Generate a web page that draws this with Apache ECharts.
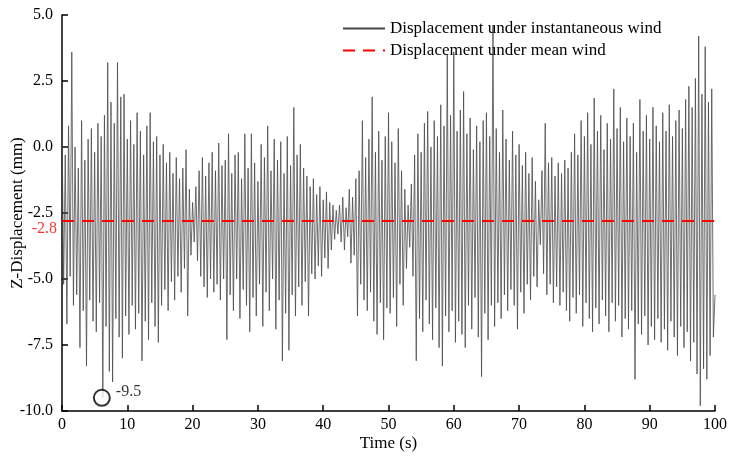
<!DOCTYPE html>
<html>
<head>
<meta charset="utf-8">
<script src="https://cdn.jsdelivr.net/npm/echarts@6.0.0/dist/echarts.min.js"></script>
<style>
  html, body { margin: 0; padding: 0; background: #fff; }
  #chart { width: 732px; height: 458px; }
</style>
</head>
<body>
<div id="chart"></div>
<script>
// 位移时程 (mm)，每 0.25 s 一个点，峰/谷交替
const segA = [ // 0 - 24.75 s
  1.1, -5.2, -0.3, -6.7, 0.8, -4.9, 3.6, -6.0, 0.0, -5.6,
  -0.8, -7.6, 1.0, -6.2, -0.5, -8.3, 0.3, -5.8, 0.7, -6.6,
  -0.2, -7.0, 0.9, -5.9, 0.4, -9.5, 1.2, -6.8, 3.2, -8.5,
  1.7, -8.9, 0.9, -6.5, 3.2, -7.2, 1.9, -8.0, 2.0, -6.4,
  0.3, -7.1, 1.0, -6.0, 0.1, -6.9, 1.3, -6.3, 0.6, -8.1,
  -0.3, -6.6, 0.8, -7.3, 1.3, -5.9, 0.2, -6.8, 0.4, -7.4,
  -0.3, -6.0, 0.1, -5.4, -0.6, -6.2, -0.2, -5.1, -1.0, -5.8,
  -0.4, -4.9, -1.2, -5.5, -0.8, -4.6, -0.1, -6.4, -1.6, -4.1,
  -2.1, -3.6, -1.5, -4.3, -0.9, -4.9, -0.4, -5.3, -1.1, -5.7,
  -0.6, -5.0, -0.2, -5.5, -0.9, -5.2, 0.15, -5.8, -0.7, -5.0
];
const segB = [ // 25 - 49.75 s
  -0.5, -7.3, 0.5, -5.6, -1.0, -6.2, -0.3, -5.0, -0.2, -6.5,
  -1.2, -5.4, 0.5, -6.0, -0.8, -7.0, 0.5, -5.7, -0.6, -6.4,
  -1.3, -5.2, 0.1, -6.8, -0.4, -5.5, 0.8, -6.2, -0.9, -5.0,
  0.3, -6.9, -0.5, -5.8, 0.2, -8.1, -1.0, -6.3, 0.4, -7.7,
  -0.7, -5.6, 1.5, -6.4, -0.3, -5.3, 0.1, -6.0, -0.8, -5.1,
  -1.1, -6.4, -1.5, -4.8, -1.2, -5.0, -1.8, -4.5, -1.5, -4.9,
  -2.0, -4.2, -1.7, -4.6, -2.1, -3.9, -2.2, -3.5, -2.4, -3.3,
  -2.2, -3.6, -1.9, -3.9, -2.3, -3.4, -1.6, -4.4, -1.9, -4.1,
  -1.2, -6.4, -0.9, -5.2, 1.0, -5.8, -0.4, -6.2, 0.3, -5.5,
  1.9, -6.6, -0.2, -7.1, 0.6, -5.9, -0.5, -7.3, 0.4, -6.1
];
const segC = [ // 50 - 74.75 s
  1.3, -6.3, 0.2, -5.7, -0.6, -6.8, 0.7, -5.2, -0.9, -6.0,
  -1.6, -4.6, -2.2, -3.8, -1.4, -4.9, -0.3, -8.1, 0.5, -6.5,
  -0.2, -7.0, 0.9, -5.8, 1.35, -6.7, 0.0, -7.3, 1.0, -6.1,
  0.4, -7.6, 1.6, -8.3, 0.8, -6.4, 3.5, -7.0, 1.2, -6.2,
  3.6, -7.4, 0.6, -6.6, 1.4, -7.1, 2.1, -7.6, 0.5, -6.0,
  1.1, -6.9, -0.1, -5.7, 0.8, -7.2, 0.2, -8.7, 1.0, -6.3,
  1.3, -7.3, 0.4, -6.0, 4.6, -6.8, 0.7, -5.9, -0.2, -6.5,
  1.4, -5.6, 0.3, -6.2, -0.5, -5.4, 0.6, -6.0, -0.3, -6.9,
  0.1, -5.5, -0.7, -6.3, -0.2, -5.2, -1.0, -5.8, -0.4, -4.9,
  -1.3, -5.3, -2.0, -3.7, -0.9, -4.8, 0.9, -5.6, -0.6, -5.2
];
const segD = [ // 75 - 100 s
  -0.4, -5.9, -1.1, -5.3, -0.6, -6.0, -1.0, -5.5, -0.5, -6.2,
  -0.8, -6.6, -0.2, -5.7, 0.5, -6.3, -0.3, -5.6, 1.0, -6.8,
  0.4, -5.9, 1.3, -6.5, 0.1, -7.0, 1.85, -6.1, 0.6, -6.7,
  1.2, -5.8, -0.1, -6.4, 0.9, -7.0, 0.3, -5.9, 2.2, -6.6,
  0.7, -6.0, 1.5, -7.2, 0.2, -6.5, 1.1, -6.9, 0.4, -6.2,
  0.9, -8.8, -0.2, -6.7, 1.8, -7.1, 0.6, -6.4, 1.2, -7.5,
  0.3, -6.8, 1.5, -7.3, 0.8, -6.5, 0.2, -7.4, 1.3, -6.9,
  0.6, -7.7, 1.6, -6.6, 0.4, -7.2, 1.0, -7.9, 1.4, -6.8,
  0.7, -7.6, 1.8, -7.0, 2.3, -8.1, 1.5, -7.4, 2.6, -8.6,
  4.2, -9.8, 2.0, -8.4, 3.8, -8.8, 1.7, -7.9, 2.2, -7.2,
  -5.6
];
const timeStep = 0.25;
const meanValue = -2.8;
const minPoint = [6.1, -9.5];
const xTicks = [0, 100, 10];
const yTicks = [-10, 5, 2.5];

const values = segA.concat(segB, segC, segD);
const instData = values.map((v, i) => [i * timeStep, v]);
const meanData = [[0, meanValue], [100, meanValue]];

const font = 'Liberation Serif';
const chart = echarts.init(document.getElementById('chart'));

chart.setOption({
  animation: false,
  grid: { left: 62, right: 17, top: 15, bottom: 47, outerBoundsMode: 'none' },
  legend: {
    data: ['Displacement under instantaneous wind', 'Displacement under mean wind'],
    orient: 'vertical',
    left: 337,
    top: 15,
    itemWidth: 42,
    itemHeight: 14,
    itemGap: 5,
    itemStyle: { opacity: 0 },
    textStyle: { fontFamily: font, fontSize: 17, color: '#000' }
  },
  xAxis: {
    type: 'value',
    min: xTicks[0], max: xTicks[1], interval: xTicks[2],
    name: 'Time (s)',
    nameLocation: 'middle',
    nameGap: 24,
    nameMoveOverlap: false,
    nameTextStyle: { fontFamily: font, fontSize: 17, color: '#000' },
    axisLine: { onZero: false, lineStyle: { color: '#000', width: 1.5 } },
    axisTick: { inside: true, length: 6, lineStyle: { color: '#000', width: 1.5 } },
    axisLabel: { fontFamily: font, fontSize: 16, color: '#000', margin: 6 },
    splitLine: { show: false }
  },
  yAxis: {
    type: 'value',
    min: yTicks[0], max: yTicks[1], interval: yTicks[2],
    name: 'Z-Displacement (mm)',
    nameLocation: 'middle',
    nameGap: 36,
    nameMoveOverlap: false,
    nameTextStyle: { fontFamily: font, fontSize: 17, color: '#000' },
    axisLine: { show: true, onZero: false, lineStyle: { color: '#000', width: 1.5 } },
    axisTick: { show: true, inside: true, length: 6, lineStyle: { color: '#000', width: 1.5 } },
    axisLabel: {
      fontFamily: font, fontSize: 16, color: '#000', margin: 9,
      formatter: v => v.toFixed(1)
    },
    splitLine: { show: false }
  },
  series: [
    {
      name: 'Displacement under instantaneous wind',
      type: 'line',
      data: instData,
      symbol: 'none',
      lineStyle: { color: '#4a4a4a', width: 0.8 },
      itemStyle: { color: '#4a4a4a' },
      z: 2
    },
    {
      name: 'Displacement under mean wind',
      type: 'line',
      data: meanData,
      symbol: 'none',
      lineStyle: { color: '#ff0000', width: 2, type: [12, 8] },
      itemStyle: { color: '#ff0000' },
      z: 3
    },
    {
      name: 'meanLabel',
      type: 'scatter',
      data: [[0, meanValue]],
      symbolSize: 0,
      silent: true,
      label: {
        show: true,
        position: 'left',
        distance: 5,
        offset: [0, 8],
        formatter: meanValue.toFixed(1),
        fontFamily: font,
        fontSize: 16,
        color: '#ff0000'
      },
      z: 4
    },
    {
      name: 'min',
      type: 'scatter',
      data: [minPoint],
      symbol: 'emptyCircle',
      symbolSize: 16,
      silent: true,
      itemStyle: { color: '#000', borderColor: '#000', borderWidth: 1.2 },
      label: {
        show: true,
        position: 'right',
        formatter: minPoint[1].toFixed(1),
        fontFamily: font,
        fontSize: 16,
        color: '#000',
        offset: [0, -6]
      },
      z: 4
    }
  ]
});
</script>
</body>
</html>
